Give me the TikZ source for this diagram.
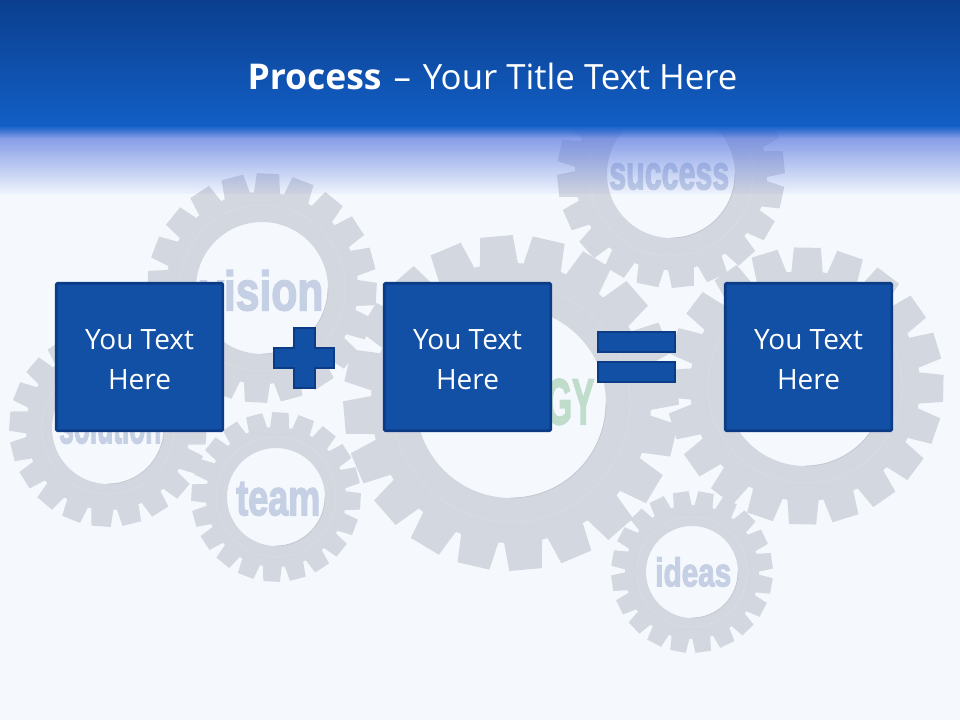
\documentclass[tikz,border=0pt]{standalone}
\usepackage{fontspec}
\usepackage{graphicx}
\usetikzlibrary{fadings}
\setmainfont{Open Sans}
\newfontfamily\gf[BoldFeatures={FakeBold=3}]{Liberation Sans}
\definecolor{pagebg}{HTML}{F5F9FE}
\definecolor{gearc}{HTML}{D3D7DF}
\definecolor{gearring}{HTML}{DADDE3}
\definecolor{gearshade}{HTML}{C4C8D0}
\definecolor{bandtop}{HTML}{0B3F8E}
\definecolor{bandlow}{HTML}{125FC6}
\definecolor{fadeblue}{HTML}{5C7ADF}
\definecolor{boxfill}{HTML}{1250A6}
\definecolor{boxline}{HTML}{0C3C85}
\definecolor{wordblue}{HTML}{C5D0E5}
\definecolor{wordgreen}{HTML}{C0DDCC}
\tikzfading[name=bandfade, top color=transparent!15, middle color=transparent!58, bottom color=transparent!96]
\tikzfading[name=edgefade, top color=transparent!15, bottom color=transparent!100]
\tikzset{
  bluebox/.style={draw=boxline, fill=boxfill, line width=2pt, rounded corners=1pt,
    minimum width=125pt, minimum height=110.5pt, inner sep=0pt, align=center,
    text=white, font=\fontsize{21}{30}\selectfont},
  signshape/.style={draw=boxline, fill=boxfill, line width=2pt},
  gearword/.style={inner sep=0pt, font=\gf\bfseries, text=wordblue},
  ringline/.style={draw=gearring, line width=.5pt},
  holeline/.style={draw=gearshade, line width=.6pt},
}
\newcommand{\boxlabel}{\raisebox{-4.1pt}[16pt][5pt]{You Text}\\\raisebox{-4.1pt}[16pt][5pt]{Here}}
% #1 cx, #2 cy, #3 tip radius, #4 root radius, #5 hole radius, #6 ring radius, #7 teeth, #8 phase
\newcommand{\gearshape}[8]{%
  \begin{scope}[shift={(#1,#2)}]
    \fill[gearc, even odd rule] (0,0) circle[radius=#4] (0,0) circle[radius=#5];
    \pgfmathsetmacro{\per}{360/#7}
    \foreach \k in {1,...,#7}{
      \pgfmathsetmacro{\ang}{#8+\k*\per}
      \pgfmathsetmacro{\ba}{\ang-.44*\per}
      \pgfmathsetmacro{\bb}{\ang+.44*\per}
      \pgfmathsetmacro{\ta}{\ang-.31*\per}
      \pgfmathsetmacro{\tb}{\ang+.31*\per}
      \fill[gearc] (\ba:#4-1) -- (\ta:#3) -- (\tb:#3) -- (\bb:#4-1) -- cycle;
    }
    \draw[ringline] (0,0) circle[radius=#6];
    \draw[holeline] (0:#5) arc[start angle=0, end angle=90, radius=#5];
  \end{scope}%
}
\begin{document}
\begin{tikzpicture}[x=.75pt,y=-.75pt]
\useasboundingbox (0,0) rectangle (960,720);
\fill[pagebg] (0,0) rectangle (960,720);
% gears
\gearshape{108}{428}{99}{82}{56}{66}{20}{4}
\gearshape{262}{288}{115}{96}{66}{83}{20}{-87}
\gearshape{276}{497}{85}{70}{49}{60}{20}{93}
\gearshape{511}{403}{168}{140}{95}{119}{20}{85}
\gearshape{671}{174}{114}{96}{64}{82}{20}{84}
\gearshape{805}{386}{139}{115}{80}{97}{20}{-89}
\gearshape{692}{572}{81}{67}{46}{55}{20}{-98}
% gear words
\node[gearword, anchor=south west] (wvision) at (200,311) {\resizebox{92.3pt}{30pt}{vision}};
\node[gearword, anchor=south west] (wsolution) at (59,444) {\resizebox{76.5pt}{27pt}{solution}};
\node[gearword, anchor=south west] (wteam) at (236,516) {\resizebox{63pt}{24.8pt}{team}};
\node[gearword, anchor=south west] (wsuccess) at (609,190) {\resizebox{90pt}{19.5pt}{success}};
\node[gearword, anchor=south west] (wideas) at (655,587) {\resizebox{57pt}{21.8pt}{ideas}};
\node[gearword, anchor=south west, text=wordgreen] (wgy) at (546,425) {\resizebox{36pt}{33.8pt}{GY}};
% header
\shade[top color=bandtop, bottom color=bandlow] (0,0) rectangle (960,127);
\fill[fadeblue, path fading=bandfade] (0,127) rectangle (960,194);
\fill[bandlow, path fading=edgefade] (0,127) rectangle (960,138);
\node[inner sep=0pt, text=white, font=\fontsize{26.1}{30}\selectfont] (title) at (492.5,76)
  {{\fontsize{26.6}{30}\selectfont\textbf{Process}}\kern2.2pt{} – \kern2.2pt{}Your Title Text Here};
% boxes
\node[bluebox] (boxa) at (139.5,357) {\boxlabel};
\node[bluebox] (boxb) at (467.5,357) {\boxlabel};
\node[bluebox] (boxc) at (808.5,357) {\boxlabel};
% signs
\draw[signshape] (294,328) -- (315,328) -- (315,348) -- (334,348) -- (334,368) -- (315,368)
  -- (315,388) -- (294,388) -- (294,368) -- (274,368) -- (274,348) -- (294,348) -- cycle;
\draw[signshape] (598,332) rectangle (675,352);
\draw[signshape] (598,362) rectangle (675,382);
\end{tikzpicture}
\end{document}
